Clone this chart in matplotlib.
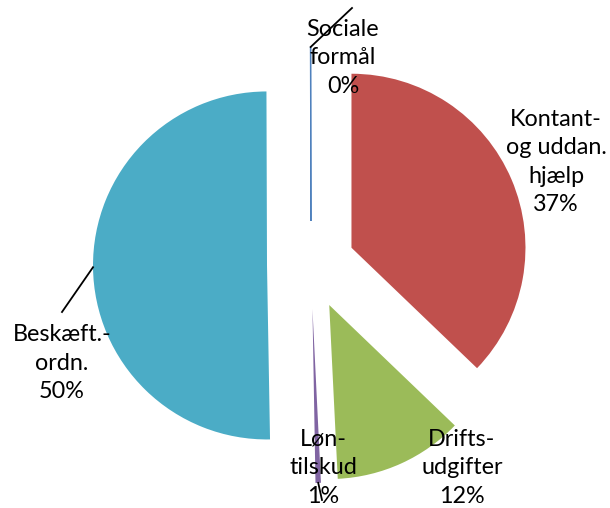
import matplotlib
matplotlib.use("Agg")
import matplotlib.pyplot as plt
import numpy as np

# slices, clockwise from 12 o'clock (Excel order)
names = ["Kontant-\nog uddan.\nhjælp", "Drifts-\nudgifter", "Løn-\ntilskud",
         "Beskæft.-\nordn.", "Sociale\nformål"]
values = [37.0, 12.0, 0.5, 50.0, 0.05]
pct_text = ["37%", "12%", "1%", "50%", "0%"]
colors = ["#C0504D", "#9BBB59", "#8064A2", "#4BACC6", "#4F81BD"]

W, H = 610, 508
fig = plt.figure(figsize=(W / 100, H / 100), dpi=100)
ax = fig.add_axes([0, 0, 1, 1])

cx, cy, r = 311, H - 265, 174
wedges, _ = ax.pie(values, colors=colors, startangle=90, counterclock=False,
                   radius=r, center=(cx, cy), explode=[44] * len(values),
                   frame=False)
# the 0% slice only shows as a thin line
wedges[4].set_edgecolor(colors[4])
wedges[4].set_linewidth(0.8)

ax.set_xlim(0, W)
ax.set_ylim(0, H)
ax.set_aspect("equal")
ax.axis("off")

font = dict(family=["Lato", "DejaVu Sans"], fontsize=16.8, ha="center",
            va="center", linespacing=1.45, color="black")

def rim_point(w):
    # outer point of a wedge at its middle angle
    t = np.deg2rad((w.theta1 + w.theta2) / 2)
    return w.center[0] + w.r * np.cos(t), w.center[1] + w.r * np.sin(t)

# label positions in pixels (y from top)
label_pos = [(556, 162), (462, 468), (323, 468), (62, 363), (343, 58)]
leader_end = [None, None, (322, 500), (62, 312), (352, 8)]

for i, w in enumerate(wedges):
    lx, ly = label_pos[i]
    ax.text(lx, H - ly, names[i] + "\n" + pct_text[i], **font)
    if leader_end[i] is not None:
        px, py = rim_point(w)
        ex, ey = leader_end[i]
        ax.plot([px, ex], [py, H - ey], color="black", lw=1.3)

fig.savefig("out.png", dpi=100)
